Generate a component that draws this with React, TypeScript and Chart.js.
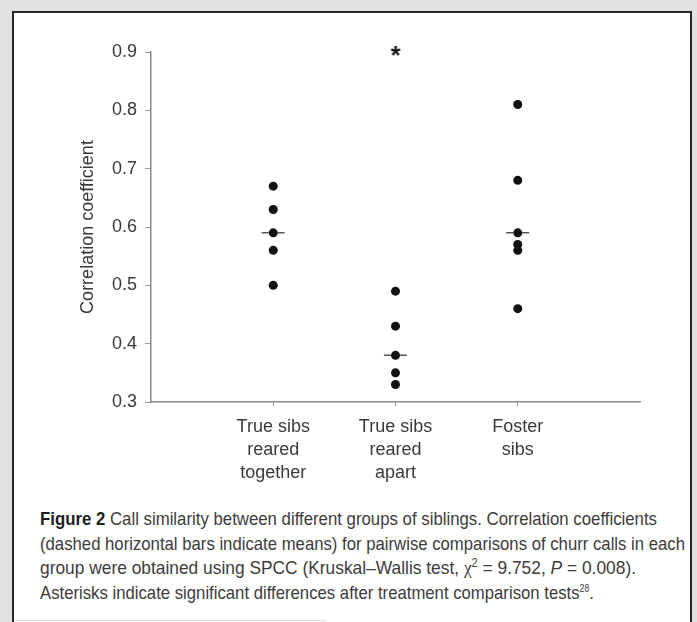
import React, { useEffect, useLayoutEffect, useRef } from "react";
import { Chart, registerables } from "chart.js";

Chart.register(...registerables);

const categories: string[][] = [
  ["True sibs", "reared", "together"],
  ["True sibs", "reared", "apart"],
  ["Foster", "sibs"],
];
const rearedTogether = [0.67, 0.63, 0.59, 0.56, 0.5];
const rearedApart = [0.49, 0.43, 0.38, 0.35, 0.33];
const fosterSibs = [0.81, 0.68, 0.59, 0.57, 0.56, 0.46];
const groupMeans = [0.59, 0.38, 0.59];
const asteriskGroup = 2;
const asteriskValue = 0.9;
const yTicks = [0.3, 0.4, 0.5, 0.6, 0.7, 0.8, 0.9];

const FONT = "'Liberation Sans', Arial, Helvetica, sans-serif";

function makeAsterisk(): HTMLCanvasElement {
  const c = document.createElement("canvas");
  c.width = 22;
  c.height = 22;
  const ctx = c.getContext("2d")!;
  ctx.fillStyle = "#111";
  ctx.font = "bold 25px 'Liberation Sans', Arial, sans-serif";
  ctx.textAlign = "center";
  ctx.textBaseline = "middle";
  ctx.fillText("*", 11, 16);
  return c;
}

export default function App() {
  const ref = useRef<HTMLCanvasElement | null>(null);
  const lineRefs = useRef<(HTMLDivElement | null)[]>([]);
  const captionWidths = [617, 645, 596, 554];

  useLayoutEffect(() => {
    lineRefs.current.forEach((el, i) => {
      if (!el) return;
      el.style.transform = "none";
      const w = el.getBoundingClientRect().width;
      if (w > 0) el.style.transform = `scaleX(${captionWidths[i] / w})`;
    });
  }, []);

  useEffect(() => {
    const canvas = ref.current;
    if (!canvas) return;
    const groups = [rearedTogether, rearedApart, fosterSibs];
    const pointData: { x: number; y: number }[] = [];
    groups.forEach((g, i) => g.forEach((v) => pointData.push({ x: i + 1, y: v })));

    const meanSets = groupMeans.map((m, i) => ({
      type: "scatter" as const,
      data: [
        { x: i + 1 - 0.095, y: m },
        { x: i + 1 + 0.095, y: m },
      ],
      showLine: true,
      borderColor: "#555",
      borderWidth: 1.5,
      borderDash: [7, 9],
      pointRadius: 0,
      order: 2,
    }));

    const chart = new Chart(canvas, {
      type: "scatter",
      data: {
        datasets: [
          ...meanSets,
          {
            type: "scatter",
            data: pointData,
            pointRadius: 4.5,
            pointBackgroundColor: "#111",
            pointBorderColor: "#111",
            pointBorderWidth: 0,
            order: 1,
          },
          {
            type: "scatter",
            data: [{ x: asteriskGroup, y: asteriskValue }],
            pointStyle: makeAsterisk(),
            pointRadius: 11,
            order: 0,
          },
        ],
      },
      options: {
        animation: false,
        responsive: false,
        clip: false as any,
        layout: { padding: { left: 77, right: 57, top: 52, bottom: 0 } },
        plugins: { legend: { display: false }, tooltip: { enabled: false } },
        scales: {
          x: {
            type: "linear",
            min: 0,
            max: 4,
            afterBuildTicks: (scale: any) => {
              scale.ticks = categories.map((_, i) => ({ value: i + 1 }));
            },
            afterFit: (scale: any) => {
              scale.height = 98;
            },
            grid: { drawOnChartArea: false, drawTicks: true, tickLength: 4, color: "#999" },
            border: { color: "#888", width: 1.5 },
            ticks: {
              padding: 9,
              color: "#3a3a3a",
              font: { family: FONT, size: 18, lineHeight: 1.3 },
              callback: (v: any) => categories[Number(v) - 1] ?? "",
            },
          },
          y: {
            type: "linear",
            min: 0.3,
            max: 0.9,
            afterBuildTicks: (scale: any) => {
              scale.ticks = yTicks.map((v) => ({ value: v }));
            },
            afterFit: (scale: any) => {
              scale.width = 74;
            },
            grid: { drawOnChartArea: false, drawTicks: true, tickLength: 6, color: "#999" },
            border: { color: "#888", width: 1.5 },
            title: {
              display: true,
              text: "Correlation coefficient",
              color: "#3a3a3a",
              padding: { top: 0, bottom: 0 },
              font: { family: FONT, size: 18 },
            },
            ticks: {
              padding: 8,
              color: "#3a3a3a",
              font: { family: FONT, size: 18 },
              callback: (v: any) => Number(v).toFixed(1),
            },
          },
        },
      },
    } as any);
    return () => chart.destroy();
  }, []);

  const lineStyle: React.CSSProperties = {
    display: "inline-block",
    whiteSpace: "nowrap",
    transformOrigin: "0 50%",
    height: 24.7,
  };

  return (
    <div
      style={{
        position: "fixed",
        left: 0,
        top: 0,
        width: 697,
        height: 622,
        background: "#e1e1e1",
        overflow: "hidden",
      }}
    >
      <div
        style={{
          position: "absolute",
          left: 12,
          top: 11,
          width: 676,
          height: 660,
          border: "2px solid #262626",
          background: "#fff",
        }}
      />
      <div
        style={{
          position: "absolute",
          left: 14,
          top: 620,
          width: 312,
          height: 1,
          background: "#d8d8d8",
        }}
      />
      <canvas
        ref={ref}
        width={697}
        height={500}
        style={{ position: "absolute", left: 0, top: 0, width: 697, height: 500 }}
      />
      <div
        style={{
          position: "absolute",
          left: 40,
          top: 507,
          width: 660,
          fontFamily: FONT,
          fontSize: 19,
          lineHeight: "24.7px",
          color: "#3c3c3c",
        }}
      >
        <div>
          <div ref={(el) => { lineRefs.current[0] = el; }} style={lineStyle}>
            <b style={{ color: "#1e1e1e" }}>Figure 2</b> Call similarity between different groups of siblings. Correlation coefficients
          </div>
        </div>
        <div>
          <div ref={(el) => { lineRefs.current[1] = el; }} style={lineStyle}>
            (dashed horizontal bars indicate means) for pairwise comparisons of churr calls in each
          </div>
        </div>
        <div>
          <div ref={(el) => { lineRefs.current[2] = el; }} style={lineStyle}>
            group were obtained using SPCC (Kruskal–Wallis test,{" "}
            <span style={{ fontFamily: "'Liberation Serif', serif" }}>χ</span>
            <sup style={{ fontSize: 12, lineHeight: 0 }}>2</sup> = 9.752, <i>P</i> = 0.008).
          </div>
        </div>
        <div>
          <div ref={(el) => { lineRefs.current[3] = el; }} style={lineStyle}>
            Asterisks indicate significant differences after treatment comparison tests
            <sup style={{ fontSize: 10, lineHeight: 0 }}>28</sup>.
          </div>
        </div>
      </div>
    </div>
  );
}
